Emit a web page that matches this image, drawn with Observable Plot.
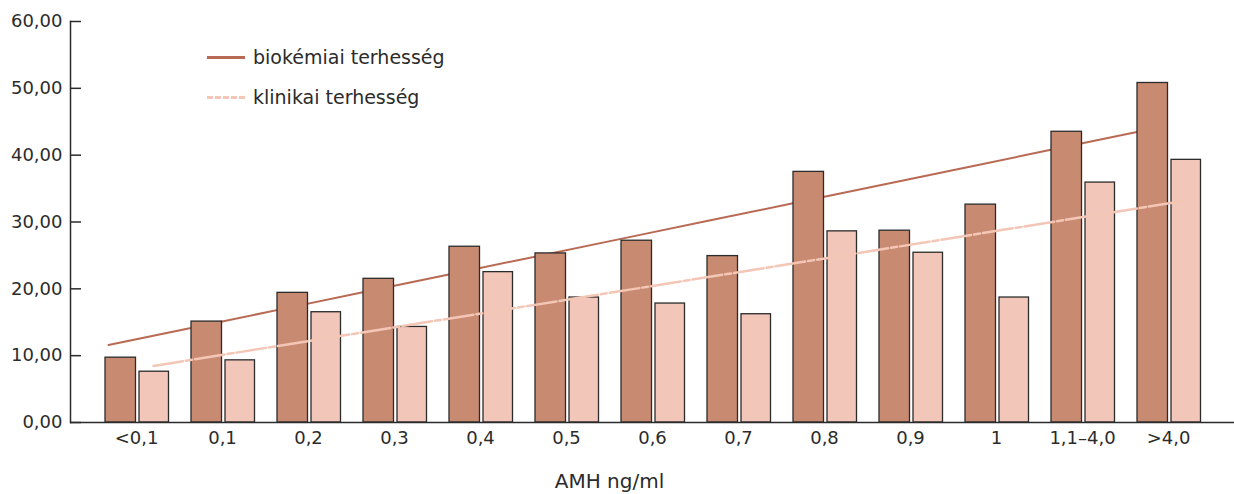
<!DOCTYPE html>
<html><head><meta charset="utf-8">
<script src="https://cdn.jsdelivr.net/npm/d3@7"></script>
<script src="https://cdn.jsdelivr.net/npm/@observablehq/plot@0.6"></script>
<style>
body{margin:0;background:#fff;font-family:"DejaVu Sans",sans-serif;}
#wrap{position:relative;width:1234px;height:494px;}
#legend{position:absolute;left:207px;top:37px;font-size:19px;color:#2b2b2b;line-height:40px;}
#legend .row{display:flex;align-items:center;}
#legend .sw{width:38px;height:0;margin-right:8px;}
</style></head>
<body><div id="wrap"><div id="legend"></div></div>
<script>
const categories = ["<0,1","0,1","0,2","0,3","0,4","0,5","0,6","0,7","0,8","0,9","1","1,1–4,0",">4,0"];
const series = ["biokémiai terhesség","klinikai terhesség"];
const biokemiai = [9.7,15.1,19.4,21.5,26.3,25.3,27.2,24.9,37.5,28.7,32.6,43.5,50.8];
const klinikai  = [7.6,9.3,16.5,14.3,22.5,18.7,17.8,16.2,28.6,25.4,18.7,35.9,39.3];
const yTicks = [0,10,20,30,40,50,60];
const colors = {bar: ["#c98a72","#f2c6b8"], line: ["#b86a54","#f3c6b6"]};

function fit(vals){
  const n = vals.length, xs = d3.range(1,n+1);
  const mx = d3.mean(xs), my = d3.mean(vals);
  const b = d3.sum(xs,(x,i)=>(x-mx)*(vals[i]-my))/d3.sum(xs,x=>(x-mx)**2);
  const a = my - b*mx;
  return categories.map((c,i)=>({cat:c, v:a+b*(i+1)}));
}
const bioRows = categories.map((c,i)=>({cat:c,v:biokemiai[i]}));
const kliRows = categories.map((c,i)=>({cat:c,v:klinikai[i]}));
const fmt = d => d.toFixed(2).replace(".", ",");

const chart = Plot.plot({
  width:1234, height:494,
  marginLeft:70, marginRight:0, marginTop:21, marginBottom:72,
  style:{fontFamily:"DejaVu Sans", fontSize:"18px", color:"#2b2b2b"},
  x:{domain:categories, paddingInner:0, paddingOuter:0.23, label:null},
  y:{domain:[0,60], label:null},
  marks:[
    Plot.line(fit(biokemiai), {x:"cat", y:"v", stroke:colors.line[0], strokeWidth:2, dx:-28, dy:2}),
    Plot.barY(bioRows, {x:"cat", y:"v", fill:colors.bar[0], stroke:"#2b2b2b", strokeWidth:1.3, insetLeft:12, insetRight:43.5}),
    Plot.barY(kliRows, {x:"cat", y:"v", fill:colors.bar[1], stroke:"#2b2b2b", strokeWidth:1.3, insetLeft:46, insetRight:10.5}),
    Plot.line(fit(klinikai), {x:"cat", y:"v", stroke:colors.line[1], strokeWidth:2.5, strokeDasharray:"30,3,6,3", dx:17}),
    Plot.ruleY([0], {stroke:"#2b2b2b", strokeWidth:1.5}),
    Plot.frame({anchor:"left", stroke:"#2b2b2b", strokeWidth:1.5}),
    Plot.axisY({ticks:yTicks, tickFormat:fmt, tickSize:-11, tickPadding:19, label:null, stroke:"#2b2b2b", strokeWidth:1.5, fontSize:18}),
    Plot.axisX({tickSize:0, tickPadding:9, label:null, fontSize:18}),
    Plot.text(["AMH ng/ml"], {frameAnchor:"bottom", dx:-43, dy:65, fontSize:20, fill:"#2b2b2b"})
  ]
});
document.getElementById("wrap").prepend(chart);

const leg = document.getElementById("legend");
series.forEach((s,i)=>{
  const r = document.createElement("div"); r.className="row";
  const sw = document.createElement("span"); sw.className="sw";
  sw.style.borderTop = i===0 ? `3px solid ${colors.line[0]}` : `3px dashed ${colors.line[1]}`;
  const t = document.createElement("span"); t.textContent = s;
  r.append(sw,t); leg.append(r);
});
</script></body></html>
